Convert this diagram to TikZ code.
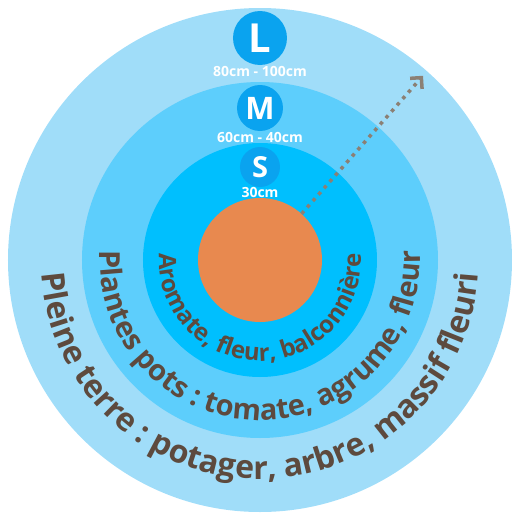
\documentclass[tikz,border=0pt]{standalone}
\usepackage{fontspec}
\setmainfont{Open Sans}
\usetikzlibrary{arrows.meta, positioning, decorations.text}
\definecolor{outerblue}{HTML}{A0DDF9}
\definecolor{midblue}{HTML}{5DCEFC}
\definecolor{innerblue}{HTML}{00BFFE}
\definecolor{badgeblue}{HTML}{0AA3EF}
\definecolor{soilorange}{HTML}{E8894F}
\definecolor{textbrown}{HTML}{5D4A3E}
\definecolor{arrowgray}{HTML}{8B8075}

\begin{document}
\begin{tikzpicture}[x=1pt, y=1pt,
  ring/.style={circle, inner sep=0pt, minimum size=#1},
  badge/.style={circle, fill=badgeblue, inner sep=0pt, minimum size=#1, text=white},
  sizelbl/.style={inner sep=0pt, text=white, font=\fontsize{14}{16}\selectfont\bfseries},
  zone/.style={decorate, decoration={text along path, text align=center, text={#1}}}]

  \useasboundingbox (-260,-260) rectangle (260,260);

  % rings, from the ground outwards
  \node [ring=504pt, fill=outerblue] (outer) at (0,0) {};
  \node [ring=356pt, fill=midblue] (middle) at (0,0) {};
  \node [ring=234pt, fill=innerblue] (inner) at (0,0) {};
  \node [ring=124pt, fill=soilorange] (core) at (0,0) {};

  % pot sizes
  \node [badge=54pt, font=\fontsize{40}{44}\selectfont\bfseries] (L) at (0,222) {L};
  \node [sizelbl, below=1pt of L] (Llbl) {80cm - 100cm};
  \node [badge=46pt, font=\fontsize{31}{34}\selectfont\bfseries] (M) at (0,152) {M};
  \node [sizelbl, below=1pt of M] (Mlbl) {60cm - 40cm};
  \node [badge=40pt, font=\fontsize{29}{32}\selectfont\bfseries] (S) at (0,93) {S};
  \node [sizelbl, below=0pt of S] (Slbl) {30cm};

  % texts along the rings
  \path [zone={|\fontsize{24}{28}\selectfont\bfseries\color{textbrown}|Aromate, fleur, balconnière}]
    (170:101) arc [start angle=170, end angle=370, radius=101];
  \path [zone={|\fontsize{29}{33}\selectfont\bfseries\color{textbrown}|Plantes pots : tomate, agrume, fleur}]
    (170:160) arc [start angle=170, end angle=370, radius=160];
  \path [zone={|\fontsize{32}{36}\selectfont\bfseries\color{textbrown}|Pleine terre : potager, arbre, massif fleuri}]
    (170:219) arc [start angle=170, end angle=370, radius=219];

  \coordinate (tip) at (48.5:246);
  \draw [arrowgray, line width=3.5pt, dash pattern=on 3.5pt off 5pt,
    -{Straight Barb[length=8pt, width=16pt, line width=3.5pt]}] (core.48.5) -- (tip);
\end{tikzpicture}
\end{document}
